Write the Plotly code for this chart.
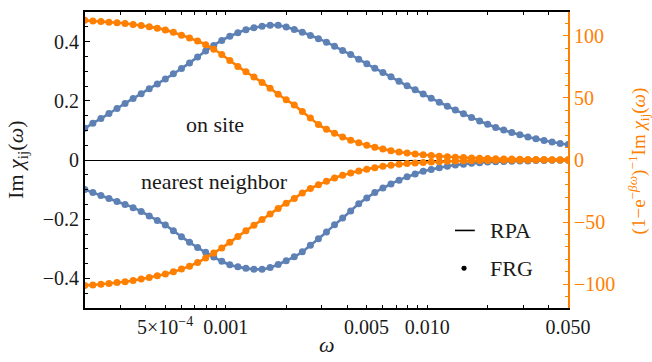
import math
import plotly.graph_objects as go

# frequency grid (omega), log-spaced sample points
omega = [
    1.995e-4, 2.188e-4, 2.399e-4, 2.630e-4, 2.884e-4, 3.162e-4, 3.467e-4, 3.802e-4, 4.169e-4, 4.571e-4,
    5.012e-4, 5.495e-4, 6.026e-4, 6.607e-4, 7.244e-4, 7.943e-4, 8.710e-4, 9.550e-4, 1.047e-3, 1.148e-3,
    1.259e-3, 1.380e-3, 1.514e-3, 1.660e-3, 1.820e-3, 1.995e-3, 2.188e-3, 2.399e-3, 2.630e-3, 2.884e-3,
    3.162e-3, 3.467e-3, 3.802e-3, 4.169e-3, 4.571e-3, 5.012e-3, 5.495e-3, 6.026e-3, 6.607e-3, 7.244e-3,
    7.943e-3, 8.710e-3, 9.550e-3, 1.047e-2, 1.148e-2, 1.259e-2, 1.380e-2, 1.514e-2, 1.660e-2, 1.820e-2,
    1.995e-2, 2.188e-2, 2.399e-2, 2.630e-2, 2.884e-2, 3.162e-2, 3.467e-2, 3.802e-2, 4.169e-2, 4.571e-2,
    5.012e-2,
]

# Im chi (left axis), on site
im_chi_onsite = [
    0.107, 0.124, 0.140, 0.157, 0.174, 0.191, 0.208, 0.224, 0.241, 0.257,
    0.274, 0.291, 0.309, 0.328, 0.348, 0.368, 0.387, 0.404, 0.418, 0.430,
    0.440, 0.447, 0.452, 0.455, 0.455, 0.449, 0.441, 0.432, 0.421, 0.410,
    0.398, 0.384, 0.370, 0.356, 0.340, 0.325, 0.310, 0.296, 0.281, 0.266,
    0.251, 0.237, 0.223, 0.209, 0.195, 0.182, 0.169, 0.156, 0.144, 0.132,
    0.121, 0.110, 0.101, 0.093, 0.085, 0.078, 0.072, 0.066, 0.061, 0.056,
    0.052,
]

# Im chi (left axis), nearest neighbor
im_chi_nn = [
    -0.100, -0.110, -0.120, -0.130, -0.140, -0.150, -0.161, -0.174, -0.189, -0.204,
    -0.220, -0.239, -0.259, -0.278, -0.296, -0.312, -0.328, -0.342, -0.354, -0.361,
    -0.366, -0.369, -0.369, -0.363, -0.353, -0.340, -0.327, -0.310, -0.288, -0.266,
    -0.243, -0.219, -0.196, -0.172, -0.148, -0.128, -0.110, -0.095, -0.081, -0.068,
    -0.057, -0.047, -0.038, -0.032, -0.026, -0.021, -0.017, -0.014, -0.011, -0.009,
    -0.007, -0.006, -0.005, -0.004, -0.003, -0.003, -0.002, -0.002, -0.001, -0.001,
    -0.001,
]

# (1-e^{-beta omega})^{-1} Im chi (right axis), on site
weighted_onsite = [
    112.5, 112.0, 111.5, 111.0, 110.5, 110.0, 109.2, 108.3, 107.3, 106.2,
    104.8, 102.8, 100.5, 98.3, 95.8, 92.8, 89.2, 85.0, 80.2, 75.4,
    71.0, 66.8, 62.5, 57.8, 53.0, 48.5, 44.2, 39.0, 33.8, 28.5,
    24.8, 21.5, 18.6, 16.0, 13.8, 11.9, 10.2, 8.8, 7.5, 6.5,
    5.6, 4.8, 4.2, 3.6, 3.1, 2.7, 2.3, 2.0, 1.7, 1.5,
    1.3, 1.1, 0.9, 0.8, 0.6, 0.5, 0.4, 0.4, 0.3, 0.3,
    0.2,
]

# (1-e^{-beta omega})^{-1} Im chi (right axis), nearest neighbor
weighted_nn = [
    -101.0, -100.6, -100.1, -99.4, -98.7, -98.0, -97.0, -95.8, -94.6, -93.2,
    -91.8, -90.0, -87.8, -85.5, -82.5, -79.0, -75.0, -70.8, -66.3, -61.6,
    -57.0, -52.5, -48.0, -43.5, -39.0, -34.8, -31.0, -26.5, -23.0, -20.0,
    -17.2, -14.5, -12.3, -10.4, -8.8, -7.4, -6.2, -5.1, -4.2, -3.5,
    -2.9, -2.4, -2.0, -1.7, -1.4, -1.1, -0.9, -0.7, -0.6, -0.5,
    -0.4, -0.3, -0.3, -0.2, -0.2, -0.2, -0.1, -0.1, -0.1, -0.1,
    -0.1,
]

x_tickvals = [5e-4, 1e-3, 5e-3, 1e-2, 5e-2]
x_ticktext = ["5\u00d710<sup>\u22124</sup>", "0.001", "0.005", "0.010", "0.050"]
x_minorvals = [2e-4, 3e-4, 4e-4, 6e-4, 7e-4, 8e-4, 9e-4,
               2e-3, 3e-3, 4e-3, 6e-3, 7e-3, 8e-3, 9e-3,
               2e-2, 3e-2, 4e-2]
x_decades = [1e-3, 1e-2]

BLUE = "#5E81B5"
ORANGE = "#FF8000"
FONT = "Liberation Serif, serif"
TXT = "#1a1a1a"

xr = [math.log10(2e-4), math.log10(0.05)]

fig = go.Figure()
series = [
    (im_chi_onsite, BLUE, "y"),
    (im_chi_nn, BLUE, "y"),
    (weighted_onsite, ORANGE, "y2"),
    (weighted_nn, ORANGE, "y2"),
]
for vals, color, ax in series:
    fig.add_trace(go.Scatter(x=omega, y=vals, yaxis=ax, mode="lines",
                             line=dict(color=color, width=2.6, shape="spline"),
                             showlegend=False, hoverinfo="skip"))
    fig.add_trace(go.Scatter(x=omega, y=vals, yaxis=ax, mode="markers",
                             marker=dict(color=color, size=7, line=dict(width=0)),
                             showlegend=False))

fig.update_layout(
    width=652, height=362,
    margin=dict(l=85, r=84, t=10, b=54),
    plot_bgcolor="white", paper_bgcolor="white",
    font=dict(family=FONT, size=20, color=TXT),
    xaxis=dict(type="log", range=xr, tickmode="array", tickvals=x_tickvals, ticktext=x_ticktext,
               ticks="inside", ticklen=3, tickwidth=1.2, tickcolor="black",
               minor=dict(tickmode="array", tickvals=x_minorvals, ticks="inside", ticklen=3,
                          tickwidth=1.2, tickcolor="black"),
               showline=True, linecolor="black", linewidth=1.8, mirror="ticks",
               showgrid=False, zeroline=False, tickfont=dict(size=20, color=TXT)),
    xaxis2=dict(type="log", range=xr, overlaying="x", anchor="y", side="bottom",
                tickmode="array", tickvals=x_decades, showticklabels=False,
                ticks="inside", ticklen=7, tickwidth=1.2, tickcolor="black",
                showline=False, mirror="ticks", showgrid=False, zeroline=False),
    yaxis=dict(range=[-0.5, 0.5], tick0=0, dtick=0.2, ticks="inside", ticklen=5,
               tickwidth=1.2, tickcolor="black",
               minor=dict(tickmode="linear", tick0=0, dtick=0.05, ticks="inside", ticklen=3,
                          tickwidth=1.2, tickcolor="black"),
               showline=True, linecolor="black", linewidth=1.8, mirror=False,
               zeroline=True, zerolinecolor="black", zerolinewidth=1,
               showgrid=False, tickfont=dict(size=20, color=TXT)),
    yaxis2=dict(range=[-119.2, 119.2], overlaying="y", side="right", anchor="x",
                tick0=0, dtick=50, ticks="inside", ticklen=5, tickwidth=1.2, tickcolor=ORANGE,
                minor=dict(tickmode="linear", tick0=0, dtick=10, ticks="inside", ticklen=3,
                           tickwidth=1.2, tickcolor=ORANGE),
                showline=True, linecolor=ORANGE, linewidth=1.8,
                zeroline=False, showgrid=False, tickfont=dict(size=20, color=ORANGE)),
)

ann = [
    dict(text="on site", x=0.269, y=0.621, font=dict(size=22, color=TXT)),
    dict(text="nearest neighbor", x=0.268, y=0.428, font=dict(size=22, color=TXT)),
    dict(text="Im <i>\u03c7</i><sub>ij</sub>(<i>\u03c9</i>)", x=-0.141, y=0.5, textangle=-90,
         font=dict(size=22, color=TXT)),
    dict(text="(1\u2212e<sup>\u2212<i>\u03b2\u03c9</i></sup>)<sup>\u22121</sup>Im <i>\u03c7</i><sub>ij</sub>(<i>\u03c9</i>)",
         x=1.146, y=0.497, textangle=-90, font=dict(size=19, color=ORANGE)),
    dict(text="<i>\u03c9</i>", x=0.501, y=-0.124, font=dict(size=22, color=TXT)),
    dict(text="RPA", x=0.834, y=0.262, xanchor="left", font=dict(size=22, color=TXT)),
    dict(text="FRG", x=0.834, y=0.134, xanchor="left", font=dict(size=22, color=TXT)),
]
for a in ann:
    a.setdefault("xanchor", "center")
    fig.add_annotation(xref="paper", yref="paper", showarrow=False, yanchor="middle", **a)

fig.add_shape(type="line", xref="paper", yref="paper", x0=0.766, x1=0.807, y0=0.262, y1=0.262,
              line=dict(color="black", width=1.6))
fig.add_shape(type="circle", xref="paper", yref="paper", x0=0.7795, x1=0.790, y0=0.1258, y1=0.1426,
              fillcolor="black", line=dict(color="black", width=0))

fig.write_html("out.html", config={"displayModeBar": False},
               post_script="document.body.style.margin='0';document.body.style.padding='0';")
